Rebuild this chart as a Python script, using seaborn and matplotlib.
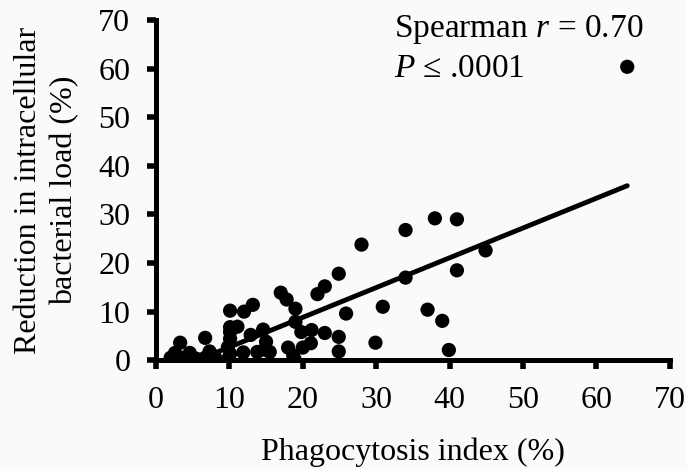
import numpy as np
import pandas as pd
import seaborn as sns
import matplotlib
matplotlib.use("Agg")
import matplotlib.pyplot as plt

# values
phago_index = [2.0, 2.6, 3.3, 3.7, 4.6, 5.5, 6.7, 6.7, 7.3, 8.0,
               9.8, 10.1, 9.8, 10.1, 10.1, 10.1, 11.1, 10.1, 12.0, 13.2,
               12.9, 14.6, 15.0, 14.8, 13.8, 11.9, 17.0, 17.8, 19.0, 19.0,
               19.8, 21.2, 21.1, 20.0, 18.0, 18.7, 18.9, 22.0, 23.0, 23.0,
               24.9, 24.9, 24.9, 25.9, 28.0, 29.9, 30.9, 34.0, 34.0, 37.0,
               38.0, 39.0, 39.9, 41.0, 41.0, 44.9, 64.2, 4.0, 15.5]
load_reduction = [0.5, 1.5, 3.6, 0.5, 1.5, 0.3, 4.6, 0.5, 1.8, 0.8,
                  0.2, 1.3, 2.7, 4.4, 5.8, 6.8, 6.9, 10.2, 10.0, 11.4,
                  5.2, 6.3, 3.8, 2.2, 1.7, 1.6, 13.9, 12.5, 10.6, 7.9,
                  5.8, 6.2, 3.5, 2.6, 2.6, 1.0, 0.1, 13.6, 15.2, 5.6,
                  17.8, 4.8, 1.8, 9.6, 23.8, 3.6, 11.0, 26.8, 17.0, 10.4,
                  29.2, 8.1, 2.1, 29.0, 18.5, 22.6, 60.4, 0.2, 1.7]

df = pd.DataFrame({"phago": phago_index, "reduction": load_reduction})

sns.set_style("ticks")
plt.rcParams["font.family"] = ["Liberation Serif", "DejaVu Serif"]
plt.rcParams["mathtext.fontset"] = "custom"
plt.rcParams["mathtext.rm"] = "Liberation Serif"
plt.rcParams["mathtext.it"] = "Liberation Serif:italic"
for key in ["text.color", "axes.labelcolor", "xtick.color", "ytick.color",
            "xtick.labelcolor", "ytick.labelcolor", "axes.edgecolor"]:
    plt.rcParams[key] = "black"

fig = plt.figure(figsize=(6.87, 4.69), dpi=100, facecolor="#fafafa")
ax = fig.add_axes([0.227, 0.232, 0.748, 0.725])
ax.set_facecolor("#fafafa")

sns.regplot(data=df, x="phago", y="reduction", ax=ax, ci=None, truncate=True,
            scatter_kws={"s": 105, "color": "black", "edgecolor": "none", "alpha": 1},
            line_kws={"color": "black", "lw": 3.5})

ax.set_xlim(0, 70)
ax.set_ylim(0, 70)
ax.set_xticks(range(0, 71, 10))
ax.set_yticks(range(0, 71, 10))
for side in ["top", "right"]:
    ax.spines[side].set_visible(False)
for side in ["left", "bottom"]:
    ax.spines[side].set_linewidth(3.6)
    ax.spines[side].set_capstyle("projecting")
ax.tick_params(axis="both", direction="out", length=6.5, width=4,
               labelsize=23, color="black")
ax.tick_params(axis="x", pad=12)
ax.tick_params(axis="y", pad=12)

ax.set_xlabel("Phagocytosis index (%)", fontsize=23, labelpad=16)
ax.set_ylabel("Reduction in intracellular\nbacterial load (%)", fontsize=23,
              labelpad=14, linespacing=1.3)

ax.text(32.4, 68, "Spearman $r$ = 0.70", fontsize=24, va="center", ha="left")
ax.text(32.4, 60.1, "$P$ \u2264 .0001", fontsize=24, va="center", ha="left")

fig.savefig("out.png", dpi=100, facecolor=fig.get_facecolor())
